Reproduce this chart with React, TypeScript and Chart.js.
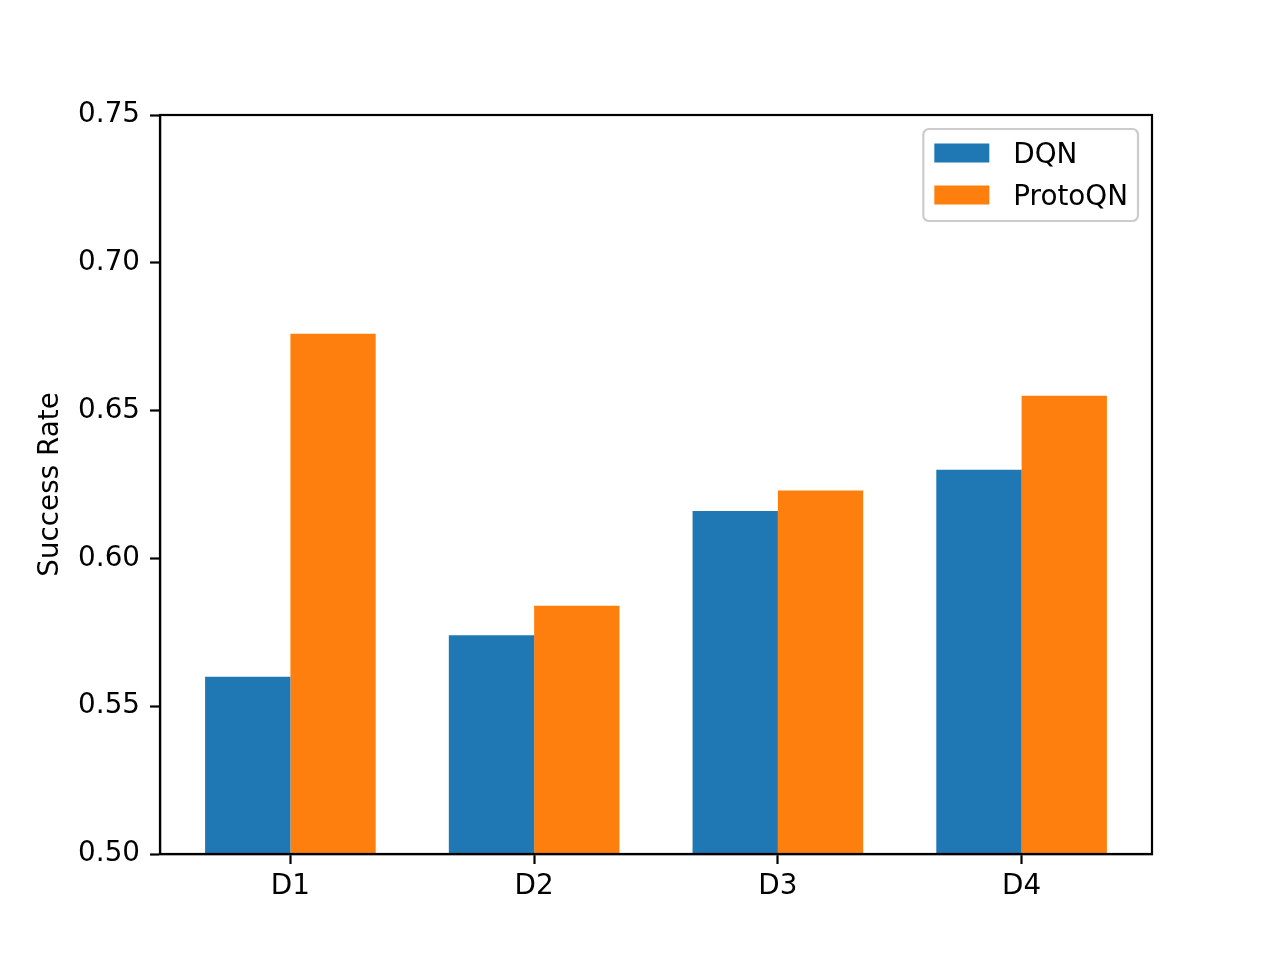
import React, { useEffect, useRef } from "react";
import { Chart, registerables } from "chart.js";

Chart.register(...registerables);

const categories = ["D1", "D2", "D3", "D4"];
const dqnValues = [0.56, 0.574, 0.616, 0.630];
const protoValues = [0.676, 0.584, 0.623, 0.655];
const yTicks = [0.5, 0.55, 0.6, 0.65, 0.7, 0.75];

const FONT = "'DejaVu Sans', sans-serif";
const FS = 27.8;

const framePlugin = {
  id: "frame",
  afterDraw(chart: any) {
    const { ctx, chartArea } = chart;
    const { left, right, top, bottom } = chartArea;
    ctx.save();
    ctx.strokeStyle = "#000";
    ctx.lineWidth = 2.2;
    ctx.strokeRect(left, top, right - left, bottom - top);

    // legend
    const items = chart.data.datasets.map((d: any) => ({ label: d.label, color: d.backgroundColor }));
    ctx.font = `${FS}px ${FONT}`;
    const maxW = Math.max(...items.map((it: any) => ctx.measureText(it.label).width));
    const boxW = 90 + maxW + 10;
    const boxH = 92;
    const bx = right - 14 - boxW;
    const by = top + 14;
    ctx.beginPath();
    (ctx as any).roundRect(bx, by, boxW, boxH, 5.6);
    ctx.fillStyle = "rgba(255,255,255,0.8)";
    ctx.fill();
    ctx.strokeStyle = "#cccccc";
    ctx.lineWidth = 2.2;
    ctx.stroke();
    items.forEach((it: any, i: number) => {
      const cy = by + 24 + i * 42;
      ctx.fillStyle = it.color;
      ctx.fillRect(bx + 11, cy - 9.5, 55, 19);
      ctx.fillStyle = "#000";
      ctx.textBaseline = "alphabetic";
      ctx.textAlign = "left";
      ctx.fillText(it.label, bx + 90, cy + 10);
    });
    ctx.restore();
  },
};

export default function App() {
  const ref = useRef<HTMLCanvasElement>(null);
  useEffect(() => {
    document.body.style.margin = "0";
    const chart = new Chart(ref.current!, {
      type: "bar",
      data: {
        datasets: [
          {
            label: "DQN",
            data: dqnValues.map((v, i) => ({ x: i, y: v })),
            backgroundColor: "#1f77b4",
            categoryPercentage: 0.7,
            barPercentage: 1.0,
          },
          {
            label: "ProtoQN",
            data: protoValues.map((v, i) => ({ x: i, y: v })),
            backgroundColor: "#ff7f0e",
            categoryPercentage: 0.7,
            barPercentage: 1.0,
          },
        ],
      },
      options: {
        animation: false,
        responsive: true,
        maintainAspectRatio: false,
        layout: { padding: { top: 115, right: 128, left: 0, bottom: 0 } },
        plugins: { legend: { display: false }, tooltip: { enabled: false } },
        scales: {
          x: {
            type: "linear",
            min: -0.535,
            max: 3.535,
            offset: false,
            afterBuildTicks: (s: any) => {
              s.ticks = categories.map((_, i) => ({ value: i }));
            },
            afterFit: (s: any) => {
              s.height = 106;
            },
            ticks: {
              color: "#000",
              font: { family: FONT, size: FS },
              padding: 6,
              maxRotation: 0,
              autoSkip: false,
              callback: (v: any) => categories[v] ?? "",
            },
            grid: {
              display: true,
              offset: false,
              drawOnChartArea: false,
              drawTicks: true,
              tickLength: 10,
              tickWidth: 2.2,
              tickColor: "#000",
            },
            border: { display: true, color: "#000", width: 2.2 },
          },
          y: {
            type: "linear",
            min: 0.5,
            max: 0.75,
            afterBuildTicks: (s: any) => {
              s.ticks = yTicks.map((v) => ({ value: v }));
            },
            afterFit: (s: any) => {
              s.width = 160;
            },
            ticks: {
              color: "#000",
              font: { family: FONT, size: FS },
              padding: 10,
              callback: (v: any) => Number(v).toFixed(2),
            },
            grid: {
              display: true,
              offset: false,
              drawOnChartArea: false,
              drawTicks: true,
              tickLength: 10,
              tickWidth: 2.2,
              tickColor: "#000",
            },
            border: { display: true, color: "#000", width: 2.2 },
            title: {
              display: true,
              text: "Success Rate",
              color: "#000",
              font: { family: FONT, size: FS },
              padding: { top: 34, bottom: 0 },
            },
          },
        },
      },
      plugins: [framePlugin],
    } as any);
    return () => chart.destroy();
  }, []);
  return (
    <div style={{ width: 1280, height: 960, position: "relative" }}>
      <canvas ref={ref} />
    </div>
  );
}
